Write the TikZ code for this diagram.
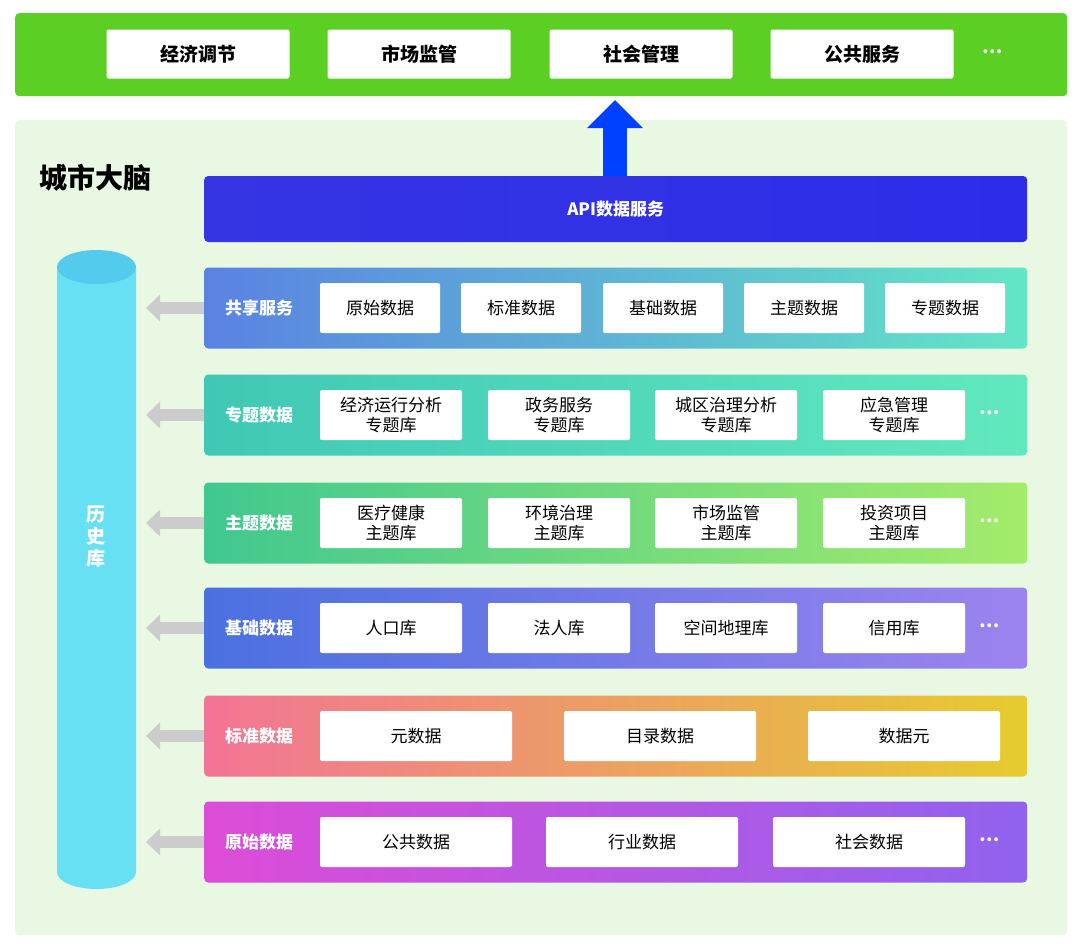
\documentclass[tikz,border=0pt]{standalone}
\usepackage{fontspec}
\setmainfont{Noto Sans CJK SC}
\usetikzlibrary{arrows.meta}

\definecolor{topgreen}{HTML}{5CCF24}
\definecolor{panelgreen}{HTML}{E9F8E2}
\definecolor{apiblue}{HTML}{3535E4}
\definecolor{cylcyan}{HTML}{66E0F2}
\definecolor{cyltop}{HTML}{52CBEC}
\definecolor{rowAl}{HTML}{5A82E2}
\definecolor{rowAr}{HTML}{62E6C6}
\definecolor{rowBl}{HTML}{40C8B6}
\definecolor{rowBr}{HTML}{62E8BE}
\definecolor{rowCl}{HTML}{40C890}
\definecolor{rowCr}{HTML}{A4EC6A}
\definecolor{rowDl}{HTML}{4A70E0}
\definecolor{rowDr}{HTML}{9C84EE}
\definecolor{rowEl}{HTML}{F27496}
\definecolor{rowEm}{HTML}{F0A466}
\definecolor{rowEr}{HTML}{E6CC2E}
\definecolor{rowFl}{HTML}{DC4CD8}
\definecolor{rowFr}{HTML}{9062EE}

\tikzset{%
    whitebox/.style={
        draw=none, fill=white, rounded corners=2,
        minimum height=50, inner sep=0,
        font=\fontsize{17}{19}\selectfont, align=center},
    topbox/.style={whitebox, minimum width=183, minimum height=49,
        font=\fontsize{19}{21}\selectfont\bfseries},
    rowbar/.style={rounded corners=4, minimum width=823, minimum height=81,
        inner sep=0, anchor=west},
    rowlabel/.style={text=white, font=\fontsize{17}{19}\selectfont\bfseries},
    dots/.style={text=white, font=\fontsize{18}{20}\selectfont\bfseries},
    backarrow/.style={-{Triangle[length=14,width=26]}, line width=12, black!20},
}

\begin{document}
\begin{tikzpicture}[x=1pt, y=-1pt]
\useasboundingbox (0,0) rectangle (1080,948);

% top layer
\node[fill=topgreen, rounded corners=4, minimum width=1052, minimum height=83,
      anchor=north west, inner sep=0] (apps) at (15,13) {};
\node[topbox] (app1) at (198,54) {经济调节};
\node[topbox] (app2) at (419,54) {市场监管};
\node[topbox] (app3) at (641,54) {社会管理};
\node[topbox] (app4) at (862,54) {公共服务};
\node[dots] (appdots) at (993,52) {…};

% city brain panel
\node[fill=panelgreen, rounded corners=4, minimum width=1052, minimum height=815,
      anchor=north west, inner sep=0] (brain) at (15,120) {};
\node[font=\fontsize{28}{30}\selectfont\bfseries] (title) at (95,178) {城市大脑};

\node[rowbar, left color=apiblue, right color=apiblue!85!blue, minimum height=66]
      (api) at (204,209) {};
\node[rowlabel] at (api) {API数据服务};
\coordinate (uptop) at (615,100);
\draw[-{Triangle[length=28,width=54]}, line width=24, color=blue!75!cyan]
      (api.north -| uptop) -- (uptop);

% history cylinder
\fill[cylcyan] (57,267) -- (57,872) arc(180:0:39.5 and 17) -- (136,267) -- cycle;
\fill[cyltop] (96.5,267) ellipse (39.5 and 17);
\node[text=white, font=\fontsize{19}{22}\selectfont\bfseries, align=center]
      (hist) at (96,537) {历\\史\\库};

% rows
\node[rowbar, left color=rowAl, right color=rowAr] (r1) at (204,308) {};
\node[rowbar, left color=rowBl, right color=rowBr] (r2) at (204,415) {};
\node[rowbar, left color=rowCl, right color=rowCr] (r3) at (204,523) {};
\node[rowbar, left color=rowDl, right color=rowDr] (r4) at (204,628) {};
\node[rowbar, left color=rowEl, middle color=rowEm, right color=rowEr] (r5) at (204,736) {};
\node[rowbar, left color=rowFl, right color=rowFr] (r6) at (204,842) {};

\foreach \r/\t in {r1/共享服务, r2/专题数据, r3/主题数据, r4/基础数据, r5/标准数据, r6/原始数据}{
    \node[rowlabel] at ([xshift=55]\r.west) {\t};
    \draw[backarrow] (\r.west) -- ++(-58,0);
}

% shared services
\foreach \x/\t in {380/原始数据, 521/标准数据, 663/基础数据, 804/主题数据, 945/专题数据}
    \node[whitebox, minimum width=120] at (\x,308) {\t};
% thematic
\foreach \x/\t in {391/经济运行分析\\专题库, 559/政务服务\\专题库, 726/城区治理分析\\专题库, 894/应急管理\\专题库}
    \node[whitebox, minimum width=142, font=\fontsize{17}{20}\selectfont] at (\x,415) {\t};
\node[dots] at (990,413) {…};
% subject
\foreach \x/\t in {391/医疗健康\\主题库, 559/环境治理\\主题库, 726/市场监管\\主题库, 894/投资项目\\主题库}
    \node[whitebox, minimum width=142, font=\fontsize{17}{20}\selectfont] at (\x,523) {\t};
\node[dots] at (990,521) {…};
% base
\foreach \x/\t in {391/人口库, 559/法人库, 726/空间地理库, 894/信用库}
    \node[whitebox, minimum width=142] at (\x,628) {\t};
\node[dots] at (990,626) {…};
% standard
\foreach \x/\t in {416/元数据, 660/目录数据, 904/数据元}
    \node[whitebox, minimum width=192] at (\x,736) {\t};
% raw
\foreach \x/\t in {416/公共数据, 642/行业数据, 869/社会数据}
    \node[whitebox, minimum width=192] at (\x,842) {\t};
\node[dots] at (990,840) {…};
\end{tikzpicture}
\end{document}
